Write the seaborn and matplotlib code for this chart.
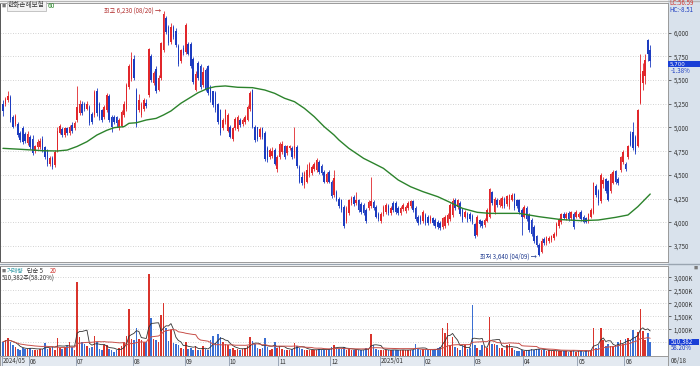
import matplotlib
matplotlib.use("Agg")
import matplotlib.pyplot as plt
from matplotlib.patches import Rectangle
from matplotlib.lines import Line2D
import numpy as np
import pandas as pd
import seaborn as sns

sns.set_theme(style="white")
plt.rcParams['font.family'] = ['Noto Sans CJK KR', 'DejaVu Sans']

# ---------------- data ----------------
month_labels = ["2024/05", "06", "07", "08", "09", "10", "11", "12",
                "2025/01", "02", "03", "04", "05", "06"]
month_starts = [0, 11, 30, 53, 74, 92, 112, 133, 153, 171, 191, 211, 233, 252]

opens = [
    5250, 5250, 5290, 5320, 5110, 5040, 5040, 4940, 4990, 4930,
    4840, 4900, 4880, 4750, 4790, 4790, 4880, 4790, 4760, 4610,
    4680, 4600, 4750, 4940, 4980, 4920, 4990, 4940, 5030, 4990,
    5080, 5150, 5250, 5250, 5200, 5220, 5140, 5130, 5390, 5250,
    5180, 5110, 5180, 5330, 5110, 5110, 5110, 4990, 5020, 5130,
    5190, 5430, 5510, 5720, 5400, 5180, 5130, 5190, 5260, 5340,
    5750, 5470, 5620, 5400, 5520, 5820, 6150, 6060, 5900, 6060,
    6020, 5860, 5700, 5840, 5800, 5880, 5880, 5720, 5400, 5680,
    5650, 5450, 5610, 5650, 5430, 5380, 5360, 5250, 5180, 4990,
    5060, 4960, 5010, 4880, 4990, 4980, 5080, 5040, 5060, 5080,
    5190, 5400, 5010, 5000, 4900, 4990, 4940, 4780, 4690, 4700,
    4760, 4560, 4690, 4740, 4800, 4730, 4780, 4780, 4700, 4790,
    4580, 4480, 4390, 4430, 4500, 4520, 4560, 4550, 4640, 4590,
    4530, 4430, 4530, 4430, 4290, 4320, 4250, 4230, 4160, 4010,
    4100, 4200, 4270, 4200, 4230, 4190, 4180, 4130, 4150, 4170,
    4210, 4160, 4090, 4010, 4090, 4110, 4170, 4100, 4200, 4200,
    4150, 4100, 4140, 4120, 4150, 4170, 4220, 4150, 4060, 4060,
    4010, 4080, 4060, 4010, 4040, 4020, 4000, 3990, 3950, 3960,
    3990, 4030, 4080, 4230, 4160, 4200, 4130, 4060, 4090, 4090,
    4070, 3980, 3870, 4020, 4010, 3970, 4010, 4060, 4320, 4110,
    4240, 4180, 4170, 4250, 4190, 4160, 4240, 4300, 4230, 4230,
    4130, 4060, 4150, 4080, 4020, 3950, 3850, 3760, 3690, 3820,
    3780, 3800, 3810, 3830, 3870, 3960, 4000, 4090, 4040, 4100,
    4040, 4090, 4060, 4060, 4110, 4060, 4040, 4010, 4060, 4100,
    4380, 4330, 4220, 4400, 4460, 4440, 4330, 4410, 4540, 4460,
    4550, 4640, 4620, 4690, 4930, 4950, 4900, 4800, 5260, 5470,
    5540, 5920, 5820]

highs = [
    5290, 5320, 5390, 5340, 5130, 5140, 5060, 4960, 5020, 4950,
    4960, 4920, 4920, 4820, 4880, 4890, 4910, 4800, 4770, 4700,
    4700, 4760, 5000, 5040, 5000, 5010, 5010, 5030, 5060, 5070,
    5440, 5290, 5280, 5270, 5280, 5240, 5160, 5400, 5420, 5270,
    5200, 5240, 5360, 5350, 5130, 5130, 5120, 5100, 5180, 5280,
    5470, 5670, 5800, 5760, 5420, 5350, 5270, 5310, 5300, 5840,
    5770, 5600, 5650, 5550, 5900, 6230, 6180, 6080, 6100, 6080,
    6050, 5880, 5830, 5870, 6100, 5900, 5900, 5740, 5600, 5700,
    5670, 5640, 5630, 5660, 5450, 5390, 5380, 5260, 5190, 5100,
    5200, 5150, 5030, 5010, 5110, 5130, 5100, 5100, 5130, 5240,
    5390, 5410, 5030, 5010, 5000, 5010, 4960, 4800, 4780, 4790,
    4780, 4710, 4850, 4860, 4820, 4820, 4820, 4800, 5010, 4810,
    4600, 4530, 4540, 4610, 4640, 4600, 4640, 4680, 4660, 4610,
    4550, 4530, 4550, 4450, 4550, 4340, 4270, 4250, 4180, 4170,
    4250, 4280, 4290, 4320, 4250, 4210, 4200, 4150, 4230, 4480,
    4230, 4180, 4110, 4110, 4180, 4200, 4190, 4170, 4220, 4220,
    4170, 4170, 4200, 4180, 4220, 4240, 4240, 4170, 4080, 4080,
    4130, 4100, 4080, 4080, 4060, 4040, 4020, 4010, 4060, 4080,
    4100, 4200, 4260, 4260, 4250, 4220, 4150, 4130, 4110, 4110,
    4090, 3990, 4080, 4030, 4020, 4040, 4150, 4360, 4330, 4270,
    4260, 4260, 4280, 4270, 4290, 4300, 4310, 4310, 4250, 4250,
    4150, 4180, 4170, 4100, 4040, 3970, 3870, 3780, 3830, 3840,
    3860, 3850, 3870, 3900, 4000, 4050, 4100, 4110, 4110, 4120,
    4120, 4110, 4130, 4110, 4130, 4080, 4060, 4100, 4150, 4420,
    4400, 4350, 4520, 4480, 4470, 4450, 4520, 4550, 4550, 4480,
    4700, 4760, 4640, 4820, 4960, 5060, 4920, 5200, 5780, 5680,
    5780, 5930, 5870]

lows = [
    5120, 5230, 5270, 5060, 4990, 5020, 4900, 4850, 4830, 4840,
    4820, 4770, 4710, 4730, 4770, 4770, 4740, 4670, 4590, 4590,
    4560, 4580, 4740, 4930, 4900, 4900, 4920, 4920, 4940, 4970,
    5060, 5130, 5130, 5170, 5180, 5030, 5040, 5110, 5120, 5080,
    5060, 5090, 5160, 5060, 4950, 5040, 5000, 4970, 5000, 5110,
    5170, 5410, 5490, 5500, 5000, 5160, 5110, 5170, 5210, 5320,
    5480, 5450, 5360, 5380, 5500, 5800, 5990, 5870, 5880, 5930,
    5850, 5650, 5680, 5760, 5780, 5760, 5630, 5460, 5380, 5500,
    5410, 5430, 5380, 5340, 5270, 5220, 5160, 5040, 4920, 4970,
    5040, 4950, 4890, 4860, 4970, 4960, 5010, 5020, 5040, 5070,
    5170, 4990, 4850, 4860, 4880, 4880, 4650, 4640, 4670, 4680,
    4600, 4530, 4670, 4720, 4670, 4710, 4760, 4670, 4680, 4570,
    4410, 4390, 4360, 4410, 4480, 4500, 4540, 4530, 4510, 4500,
    4410, 4410, 4410, 4260, 4270, 4220, 4150, 4110, 3940, 3990,
    4080, 4180, 4170, 4180, 4110, 4090, 4080, 3990, 4130, 4150,
    4130, 4040, 4010, 3990, 4070, 4090, 4080, 4080, 4110, 4090,
    4080, 4080, 4120, 4100, 4130, 4150, 4110, 4010, 3970, 3980,
    3990, 3970, 3970, 3990, 3970, 3940, 3930, 3920, 3930, 3940,
    3970, 4010, 4060, 4130, 4140, 4070, 4000, 4040, 4000, 4010,
    3980, 3830, 3860, 3950, 3940, 3950, 4000, 4050, 4180, 4090,
    4160, 4160, 4150, 4150, 4170, 4140, 4220, 4130, 4150, 4090,
    3870, 4040, 4010, 3900, 3860, 3780, 3740, 3640, 3680, 3760,
    3760, 3780, 3790, 3810, 3850, 3940, 3980, 4030, 4020, 4010,
    4020, 3930, 4040, 4040, 4010, 3990, 3990, 3990, 4040, 4090,
    4270, 4180, 4200, 4360, 4310, 4220, 4310, 4400, 4400, 4390,
    4530, 4620, 4540, 4670, 4800, 4760, 4720, 4790, 5250, 5400,
    5460, 5700, 5640]

closes = [
    5170, 5300, 5330, 5080, 5010, 5120, 4920, 4870, 4850, 4860,
    4930, 4790, 4730, 4800, 4850, 4860, 4760, 4690, 4610, 4680,
    4580, 4740, 4960, 5020, 4920, 4990, 4940, 5000, 4960, 5050,
    5220, 5250, 5150, 5190, 5250, 5050, 5060, 5370, 5150, 5100,
    5080, 5220, 5340, 5080, 5010, 5060, 5050, 5080, 5160, 5250,
    5450, 5650, 5730, 5520, 5030, 5290, 5250, 5290, 5230, 5830,
    5500, 5570, 5380, 5520, 5890, 6200, 6010, 5890, 6060, 5950,
    5870, 5670, 5820, 5790, 6080, 5780, 5650, 5480, 5560, 5520,
    5430, 5590, 5410, 5360, 5290, 5240, 5180, 5060, 4940, 5080,
    5180, 5130, 4900, 4990, 5090, 5110, 5030, 5080, 5110, 5220,
    5360, 5000, 4870, 4880, 4980, 4900, 4670, 4660, 4760, 4750,
    4620, 4690, 4830, 4830, 4690, 4800, 4800, 4690, 4800, 4590,
    4430, 4410, 4520, 4550, 4620, 4580, 4620, 4660, 4530, 4520,
    4430, 4510, 4430, 4280, 4470, 4240, 4170, 4130, 3960, 4150,
    4230, 4260, 4190, 4240, 4130, 4110, 4100, 4010, 4210, 4220,
    4150, 4060, 4030, 4090, 4160, 4180, 4100, 4150, 4130, 4110,
    4100, 4150, 4180, 4160, 4200, 4220, 4130, 4030, 3990, 4000,
    4110, 3990, 3990, 4060, 3990, 3960, 3950, 3940, 4040, 4060,
    4080, 4180, 4220, 4150, 4230, 4090, 4020, 4110, 4020, 4030,
    4000, 3850, 4060, 3980, 3960, 4020, 4130, 4350, 4200, 4250,
    4180, 4240, 4260, 4170, 4280, 4290, 4290, 4150, 4170, 4110,
    4060, 4160, 4030, 3920, 3880, 3800, 3760, 3660, 3800, 3780,
    3840, 3830, 3860, 3880, 3980, 4030, 4090, 4050, 4090, 4030,
    4110, 3950, 4110, 4090, 4030, 4000, 4000, 4090, 4130, 4410,
    4290, 4200, 4500, 4450, 4330, 4240, 4510, 4530, 4420, 4410,
    4690, 4740, 4560, 4800, 4820, 4780, 4740, 5180, 5560, 5600,
    5710, 5780, 5700]

volumes_k = [
    524, 588, 653, 524, 396, 332, 268, 230, 306, 268,
    268, 306, 230, 230, 230, 268, 268, 486, 268, 306,
    332, 230, 678, 306, 268, 332, 358, 524, 332, 230,
    2832, 691, 524, 460, 358, 306, 332, 742, 524, 268,
    204, 396, 396, 268, 204, 140, 204, 306, 358, 524,
    742, 1768, 614, 588, 1037, 614, 588, 524, 500, 3127,
    1422, 614, 588, 524, 1550, 1999, 1037, 563, 973, 486,
    460, 396, 306, 268, 524, 268, 306, 230, 358, 204,
    204, 358, 268, 204, 588, 742, 486, 819, 691, 524,
    435, 396, 268, 306, 230, 268, 230, 268, 306, 358,
    691, 563, 460, 306, 268, 306, 653, 332, 230, 268,
    524, 306, 358, 268, 230, 204, 204, 268, 486, 358,
    306, 268, 230, 230, 204, 230, 204, 230, 268, 204,
    230, 204, 268, 332, 396, 306, 268, 268, 332, 230,
    268, 204, 204, 230, 204, 204, 230, 306, 268, 819,
    396, 268, 230, 204, 204, 230, 204, 204, 230, 204,
    204, 204, 230, 204, 204, 230, 230, 460, 268, 230,
    268, 204, 204, 204, 230, 268, 306, 332, 1037, 870,
    1230, 400, 691, 332, 306, 204, 358, 396, 268, 306,
    1948, 396, 306, 230, 396, 332, 306, 1460, 460, 435,
    396, 306, 306, 230, 396, 460, 306, 230, 178, 178,
    230, 178, 204, 204, 268, 230, 268, 268, 204, 204,
    178, 204, 178, 178, 178, 178, 178, 178, 178, 140,
    178, 204, 140, 178, 178, 140, 204, 178, 230, 1037,
    306, 396, 1037, 588, 358, 460, 358, 358, 396, 524,
    588, 460, 614, 653, 588, 973, 691, 909, 1780, 959,
    588, 877, 510]

ma60_idx = [0, 7, 12, 16, 22, 26, 30, 34, 38, 42,
            45, 49, 51, 54, 58, 62, 65, 68, 72, 79,
            83, 86, 90, 95, 101, 106, 110, 114, 118, 122,
            126, 130, 134, 136, 140, 146, 150, 154, 160, 165,
            170, 176, 181, 186, 192, 197, 209, 217, 226, 234,
            241, 248, 253, 257, 262]
ma60_val = [4780, 4770, 4762, 4755, 4752, 4762, 4800, 4850, 4920, 4970,
            4998, 5009, 5044, 5050, 5079, 5096, 5132, 5174, 5255, 5367,
            5413, 5431, 5438, 5424, 5420, 5395, 5360, 5308, 5272, 5202,
            5114, 5009, 4921, 4868, 4780, 4674, 4622, 4569, 4446, 4375,
            4323, 4270, 4210, 4147, 4105, 4094, 4094, 4059, 4028, 4017,
            4024, 4052, 4077, 4165, 4298]

price_ticks = [3750, 4000, 4250, 4500, 4750, 5000, 5250, 5500, 5750, 6000]
vol_ticks = [1000, 1500, 2000, 2500, 3000]
vol_grid = [500, 1000, 1500, 2000, 2500, 3000]

# ---------------- styling ----------------
W, H = 700, 366
RED = '#e1262b'
BLUE = '#1d3cc0'
VRED = '#d9342c'
VBLUE = '#3b6fd2'
GRID = '#c4c4c4'
PANEL = '#d9e2ec'
FS = 4.4


def fx(px):
    return px / W


def fy(py):
    return 1 - py / H


df = pd.DataFrame({'o': opens, 'h': highs, 'l': lows, 'c': closes, 'v': volumes_k})
df['i'] = np.arange(len(df))
up = (df['c'] >= df['o']).to_numpy()
ccol = np.where(up, RED, BLUE)
vcol = np.where(up, VRED, VBLUE)

XL = (-1.2, 269.2)

fig = plt.figure(figsize=(7, 3.66), dpi=100)
fig.patch.set_facecolor('white')
fig.patches.append(Rectangle((fx(668), 0), fx(700) - fx(668), 1, transform=fig.transFigure,
                             facecolor=PANEL, edgecolor='none', zorder=-5))

ax_p = fig.add_axes([0, fy(262), fx(668), fy(3) - fy(262)])
ax_v = fig.add_axes([0, fy(355.5), fx(668), fy(266) - fy(355.5)])
ax_d = fig.add_axes([0, 0, fx(668), fy(356)])

# ---- price panel ----
for lv in price_ticks:
    ax_p.axhline(lv, color=GRID, lw=0.6, ls=(0, (1, 2)), zorder=0)
ax_p.vlines(df['i'], df['l'], df['h'], colors=ccol, linewidth=0.6, zorder=2)
body = (df['c'] - df['o']).abs().clip(lower=8)
ax_p.bar(df['i'], body, bottom=np.minimum(df['o'], df['c']), width=0.64,
         color=ccol, linewidth=0, zorder=3)
sns.lineplot(x=ma60_idx, y=ma60_val, ax=ax_p, color='#2c832c', linewidth=1.0, zorder=4)
ax_p.set_xlim(*XL)
ax_p.set_ylim(3581, 6313)
ax_p.set_xlabel('')
ax_p.set_ylabel('')
ax_p.set_xticks([])
ax_p.set_yticks(price_ticks)
ax_p.set_yticklabels([f"{t:,}" for t in price_ticks])
ax_p.yaxis.tick_right()
ax_p.tick_params(axis='y', right=True, left=False, length=2.5, width=0.5, pad=1.5,
                 labelsize=FS, colors='#333333')
for s in ['left', 'right', 'top', 'bottom']:
    ax_p.spines[s].set_visible(True)
    ax_p.spines[s].set_linewidth(0.7)
    ax_p.spines[s].set_color('#9a9a9a')
ax_p.spines['left'].set_color('#555555')

ax_p.text(65 - 1.0, 6230, '최고 6,230 (08/20) →', ha='right', va='center',
          fontsize=FS, color='#b02a2a', zorder=6)
ax_p.text(217 - 1.0, 3640, '최저 3,640 (04/09) →', ha='right', va='center',
          fontsize=FS, color='#1f3a8f', zorder=6)

# ---- volume panel ----
for lv in vol_grid:
    ax_v.axhline(lv, color=GRID, lw=0.6, ls=(0, (1, 2)), zorder=0)
ax_v.bar(df['i'], df['v'], width=0.64, color=vcol, linewidth=0, zorder=2)
ma5 = df['v'].rolling(5, min_periods=1).mean()
ma20 = df['v'].rolling(20, min_periods=1).mean()
sns.lineplot(x=df['i'], y=ma5, ax=ax_v, color='#333333', linewidth=0.6, zorder=3)
sns.lineplot(x=df['i'], y=ma20, ax=ax_v, color='#c8504a', linewidth=0.7, zorder=3)
ax_v.set_xlim(*XL)
ax_v.set_ylim(0, 3434)
ax_v.set_xlabel('')
ax_v.set_ylabel('')
ax_v.set_xticks([])
ax_v.set_yticks(vol_ticks)
ax_v.set_yticklabels([f"{t:,}K" for t in vol_ticks])
ax_v.yaxis.tick_right()
ax_v.tick_params(axis='y', right=True, left=False, length=2.5, width=0.5, pad=1.5,
                 labelsize=FS, colors='#333333')
for s in ['left', 'right', 'top', 'bottom']:
    ax_v.spines[s].set_linewidth(0.7)
    ax_v.spines[s].set_color('#9a9a9a')
ax_v.spines['left'].set_color('#555555')

# ---- date band ----
ax_d.set_facecolor('#e4eaf1')
ax_d.set_xlim(*XL)
ax_d.set_ylim(0, 1)
ax_d.set_xticks([])
ax_d.set_yticks([])
for m, lab in zip(month_starts, month_labels):
    ax_d.axvline(m - 0.5, color='#8d9bad', lw=0.6)
    ax_d.text(m - 0.1, 0.45, lab, fontsize=FS, va='center', ha='left', color='#333333')
for s in ['left', 'right', 'top', 'bottom']:
    ax_d.spines[s].set_linewidth(0.7)
    ax_d.spines[s].set_color('#9a9a9a')

# ---- figure-level decorations ----
fig.add_artist(Line2D([0, 1], [fy(264), fy(264)], color='#9aa5b1', lw=1.0,
                      transform=fig.transFigure))
fig.add_artist(Line2D([0, 1], [fy(1), fy(1)], color='#b5b5b5', lw=1.0,
                      transform=fig.transFigure))

# top-left title
fig.text(fx(1.5), fy(5.5), '■', fontsize=3, color='#7a7a7a', va='center', ha='left')
fig.text(fx(8), fy(5.5), '한화손해보험', fontsize=FS + 0.4, color='#333333', va='center', ha='left',
         bbox=dict(boxstyle='square,pad=0.15', facecolor='#f3f3f3', edgecolor='#b0b0b0', lw=0.5))
fig.text(fx(48), fy(5.5), '60', fontsize=FS + 0.4, color='#2f8a2f', va='center', ha='left')

# top-right indicators
fig.text(fx(669), fy(3), 'LC:56.59', fontsize=FS, color='#d0302a', va='center', ha='left')
fig.text(fx(669), fy(10), 'HC:-8.51', fontsize=FS, color='#1d3cc0', va='center', ha='left')

# current price box
fig.patches.append(Rectangle((fx(668), fy(67.2)), fx(700) - fx(668), fy(61) - fy(67.2),
                             transform=fig.transFigure, facecolor='#1a3fd6', edgecolor='none'))
fig.text(fx(670), fy(64.2), '5,700', fontsize=4.0, family='DejaVu Sans', color='white',
         va='center', ha='left')
fig.text(fx(671), fy(71), '-1.38%', fontsize=FS, color='#1d3cc0', va='center', ha='left')

# volume header
fig.text(fx(1.5), fy(271), '■', fontsize=3, color='#7a7a7a', va='center', ha='left')
fig.text(fx(7), fy(271), '거래량', fontsize=FS, color='#2f9aa6', va='center', ha='left')
fig.text(fx(27), fy(271), '단순 5', fontsize=FS, color='#333333', va='center', ha='left')
fig.text(fx(50), fy(271), '20', fontsize=FS, color='#d0302a', va='center', ha='left')
fig.text(fx(2), fy(278.5), '510,382주(58.20%)', fontsize=FS, color='#333333', va='center', ha='left')
fig.text(fx(694), fy(268), '■', fontsize=3, color='#7a7a7a', va='center', ha='left')

# current volume box
fig.patches.append(Rectangle((fx(669), fy(345)), fx(699) - fx(669), fy(338.5) - fy(345),
                             transform=fig.transFigure, facecolor='#1a3fd6', edgecolor='none'))
fig.text(fx(670.5), fy(341.7), '510,382', fontsize=FS, color='white', va='center', ha='left')
fig.text(fx(671), fy(348.5), '58.20%', fontsize=FS, color='#1d3cc0', va='center', ha='left')

# last date
fig.text(fx(671), fy(361), '06/18', fontsize=FS, color='#333333', va='center', ha='left')

fig.savefig('out.png', dpi=100)
